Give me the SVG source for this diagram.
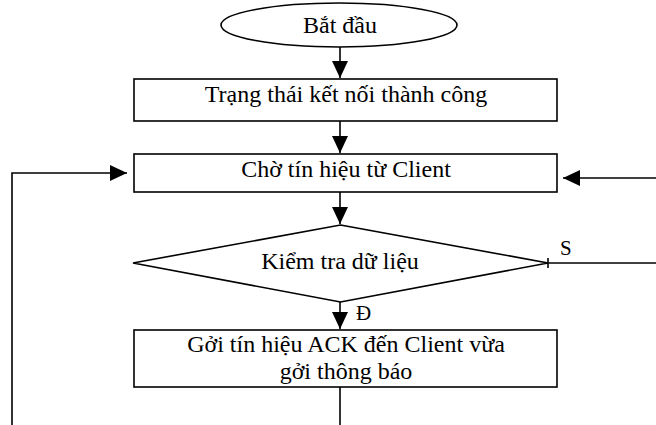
<svg xmlns="http://www.w3.org/2000/svg" width="656" height="425" viewBox="0 0 656 425">
<style>
.shape{fill:#fff;stroke:#000;stroke-width:1.6}
.line{fill:none;stroke:#000;stroke-width:1.6}
.t{font-family:"Liberation Serif","Times New Roman","DejaVu Serif",serif;font-size:24px;fill:#000;text-anchor:middle}
.lbl{font-family:"Liberation Serif","Times New Roman","DejaVu Serif",serif;font-size:21px;fill:#000}
</style>
<defs>
<marker id="ah" markerUnits="userSpaceOnUse" markerWidth="18" markerHeight="18" refX="17" refY="8" orient="auto">
<polygon points="0,0 17,8 0,16" fill="#000"/>
</marker>
</defs>
<rect width="656" height="425" fill="#fff"/>
<g id="connectors">
<line class="line" x1="340" y1="47" x2="340" y2="78" marker-end="url(#ah)"/>
<line class="line" x1="340" y1="121" x2="340" y2="153" marker-end="url(#ah)"/>
<line class="line" x1="340" y1="192" x2="340" y2="224" marker-end="url(#ah)"/>
<line class="line" x1="340" y1="302" x2="340" y2="329" marker-end="url(#ah)"/>
<line class="line" x1="340" y1="387" x2="340" y2="425"/>
<polyline class="line" points="12,425 12,173 127,173" marker-end="url(#ah)"/>
<line class="line" x1="656" y1="178" x2="563" y2="178" marker-end="url(#ah)"/>
<line class="line" x1="548" y1="263" x2="656" y2="263"/>
<line class="line" x1="548" y1="258" x2="548" y2="268"/>
<text class="lbl" x="560" y="255">S</text>
<text class="lbl" x="356" y="320">Đ</text>
</g>
<g id="start">
<ellipse class="shape" cx="339" cy="25" rx="118" ry="22"/>
<text class="t" x="340" y="33">Bắt đầu</text>
</g>
<g id="connected">
<rect class="shape" x="134" y="79" width="423" height="42"/>
<text class="t" x="346" y="102">Trạng thái kết nối thành công</text>
</g>
<g id="wait">
<rect class="shape" x="134" y="154" width="423" height="38"/>
<text class="t" x="346" y="177">Chờ tín hiệu từ Client</text>
</g>
<g id="check">
<polygon class="shape" points="340.5,225 548,263 340.5,302 133,263"/>
<text class="t" x="340" y="269">Kiểm tra dữ liệu</text>
</g>
<g id="send">
<rect class="shape" x="134" y="330" width="423" height="57"/>
<text class="t" x="346" y="352">Gởi tín hiệu ACK đến Client vừa</text>
<text class="t" x="346" y="379">gởi thông báo</text>
</g>
</svg>
